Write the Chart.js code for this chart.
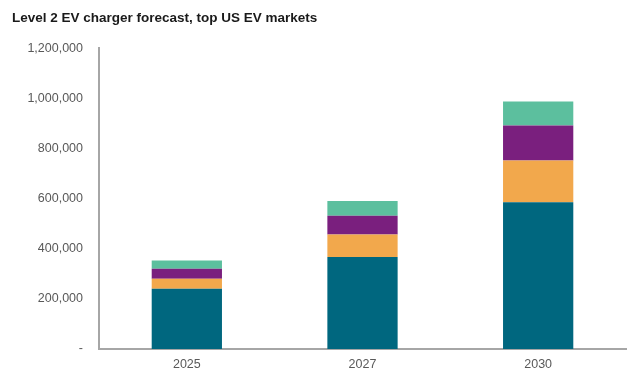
<!DOCTYPE html>
<html>
<head>
<meta charset="utf-8">
<script src="https://cdn.jsdelivr.net/npm/chart.js@4"></script>
<style>
  html, body { margin: 0; padding: 0; background: #ffffff; }
  #wrap { width: 627px; height: 372px; }
</style>
</head>
<body>
<div id="wrap"><canvas id="grafico" width="627" height="372"></canvas></div>
<script>
// Anos e valores de cada faixa (empilhadas de baixo para cima)
const anos = ['2025', '2027', '2030'];
const serie1 = [240000, 367000, 585000];
const serie2 = [40000, 90000, 167000];
const serie3 = [40000, 75000, 140000];
const serie4 = [33000, 58000, 95000];
const nomesSeries = ['Série 1', 'Série 2', 'Série 3', 'Série 4'];
const coresSeries = ['#00677f', '#f2a84c', '#7a1f7e', '#5cbf9e'];
const limiteY = 1200000;
const passoY = 200000;

const corTexto = '#595959';
const corEixo = '#a6a6a6';

const valores = [serie1, serie2, serie3, serie4];
const datasets = valores.map((dados, i) => ({
  label: nomesSeries[i],
  data: dados,
  backgroundColor: coresSeries[i],
  borderWidth: 0,
  barPercentage: 0.4,
  categoryPercentage: 1
}));

const ctx = document.getElementById('grafico');

new Chart(ctx, {
  type: 'bar',
  data: { labels: anos, datasets: datasets },
  options: {
    responsive: false,
    animation: false,
    layout: { padding: { left: 12, right: 1, top: 0, bottom: 0 } },
    scales: {
      x: {
        stacked: true,
        grid: { display: false },
        border: { display: true, color: corEixo, width: 2 },
        ticks: { color: corTexto, font: { family: 'Arial, "Liberation Sans"', size: 12.5 }, padding: 0 },
        afterFit: (scale) => { scale.height = 23; }
      },
      y: {
        stacked: true,
        min: 0,
        max: limiteY,
        grid: { display: false },
        border: { display: true, color: corEixo, width: 2 },
        ticks: {
          stepSize: passoY,
          color: corTexto,
          padding: 8,
          font: { family: 'Arial, "Liberation Sans"', size: 12.5 },
          callback: (v) => v === 0 ? '-' : v.toLocaleString('en-US')
        },
        afterFit: (scale) => { scale.width = 87; }
      }
    },
    plugins: {
      legend: { display: false },
      tooltip: { enabled: false },
      title: {
        display: true,
        text: 'Level 2 EV charger forecast, top US EV markets',
        align: 'start',
        color: '#1a1a1a',
        font: { family: 'Arial, "Liberation Sans"', size: 13.5, weight: 'bold' },
        padding: { top: 10, bottom: 22 }
      }
    }
  }
});
</script>
</body>
</html>
